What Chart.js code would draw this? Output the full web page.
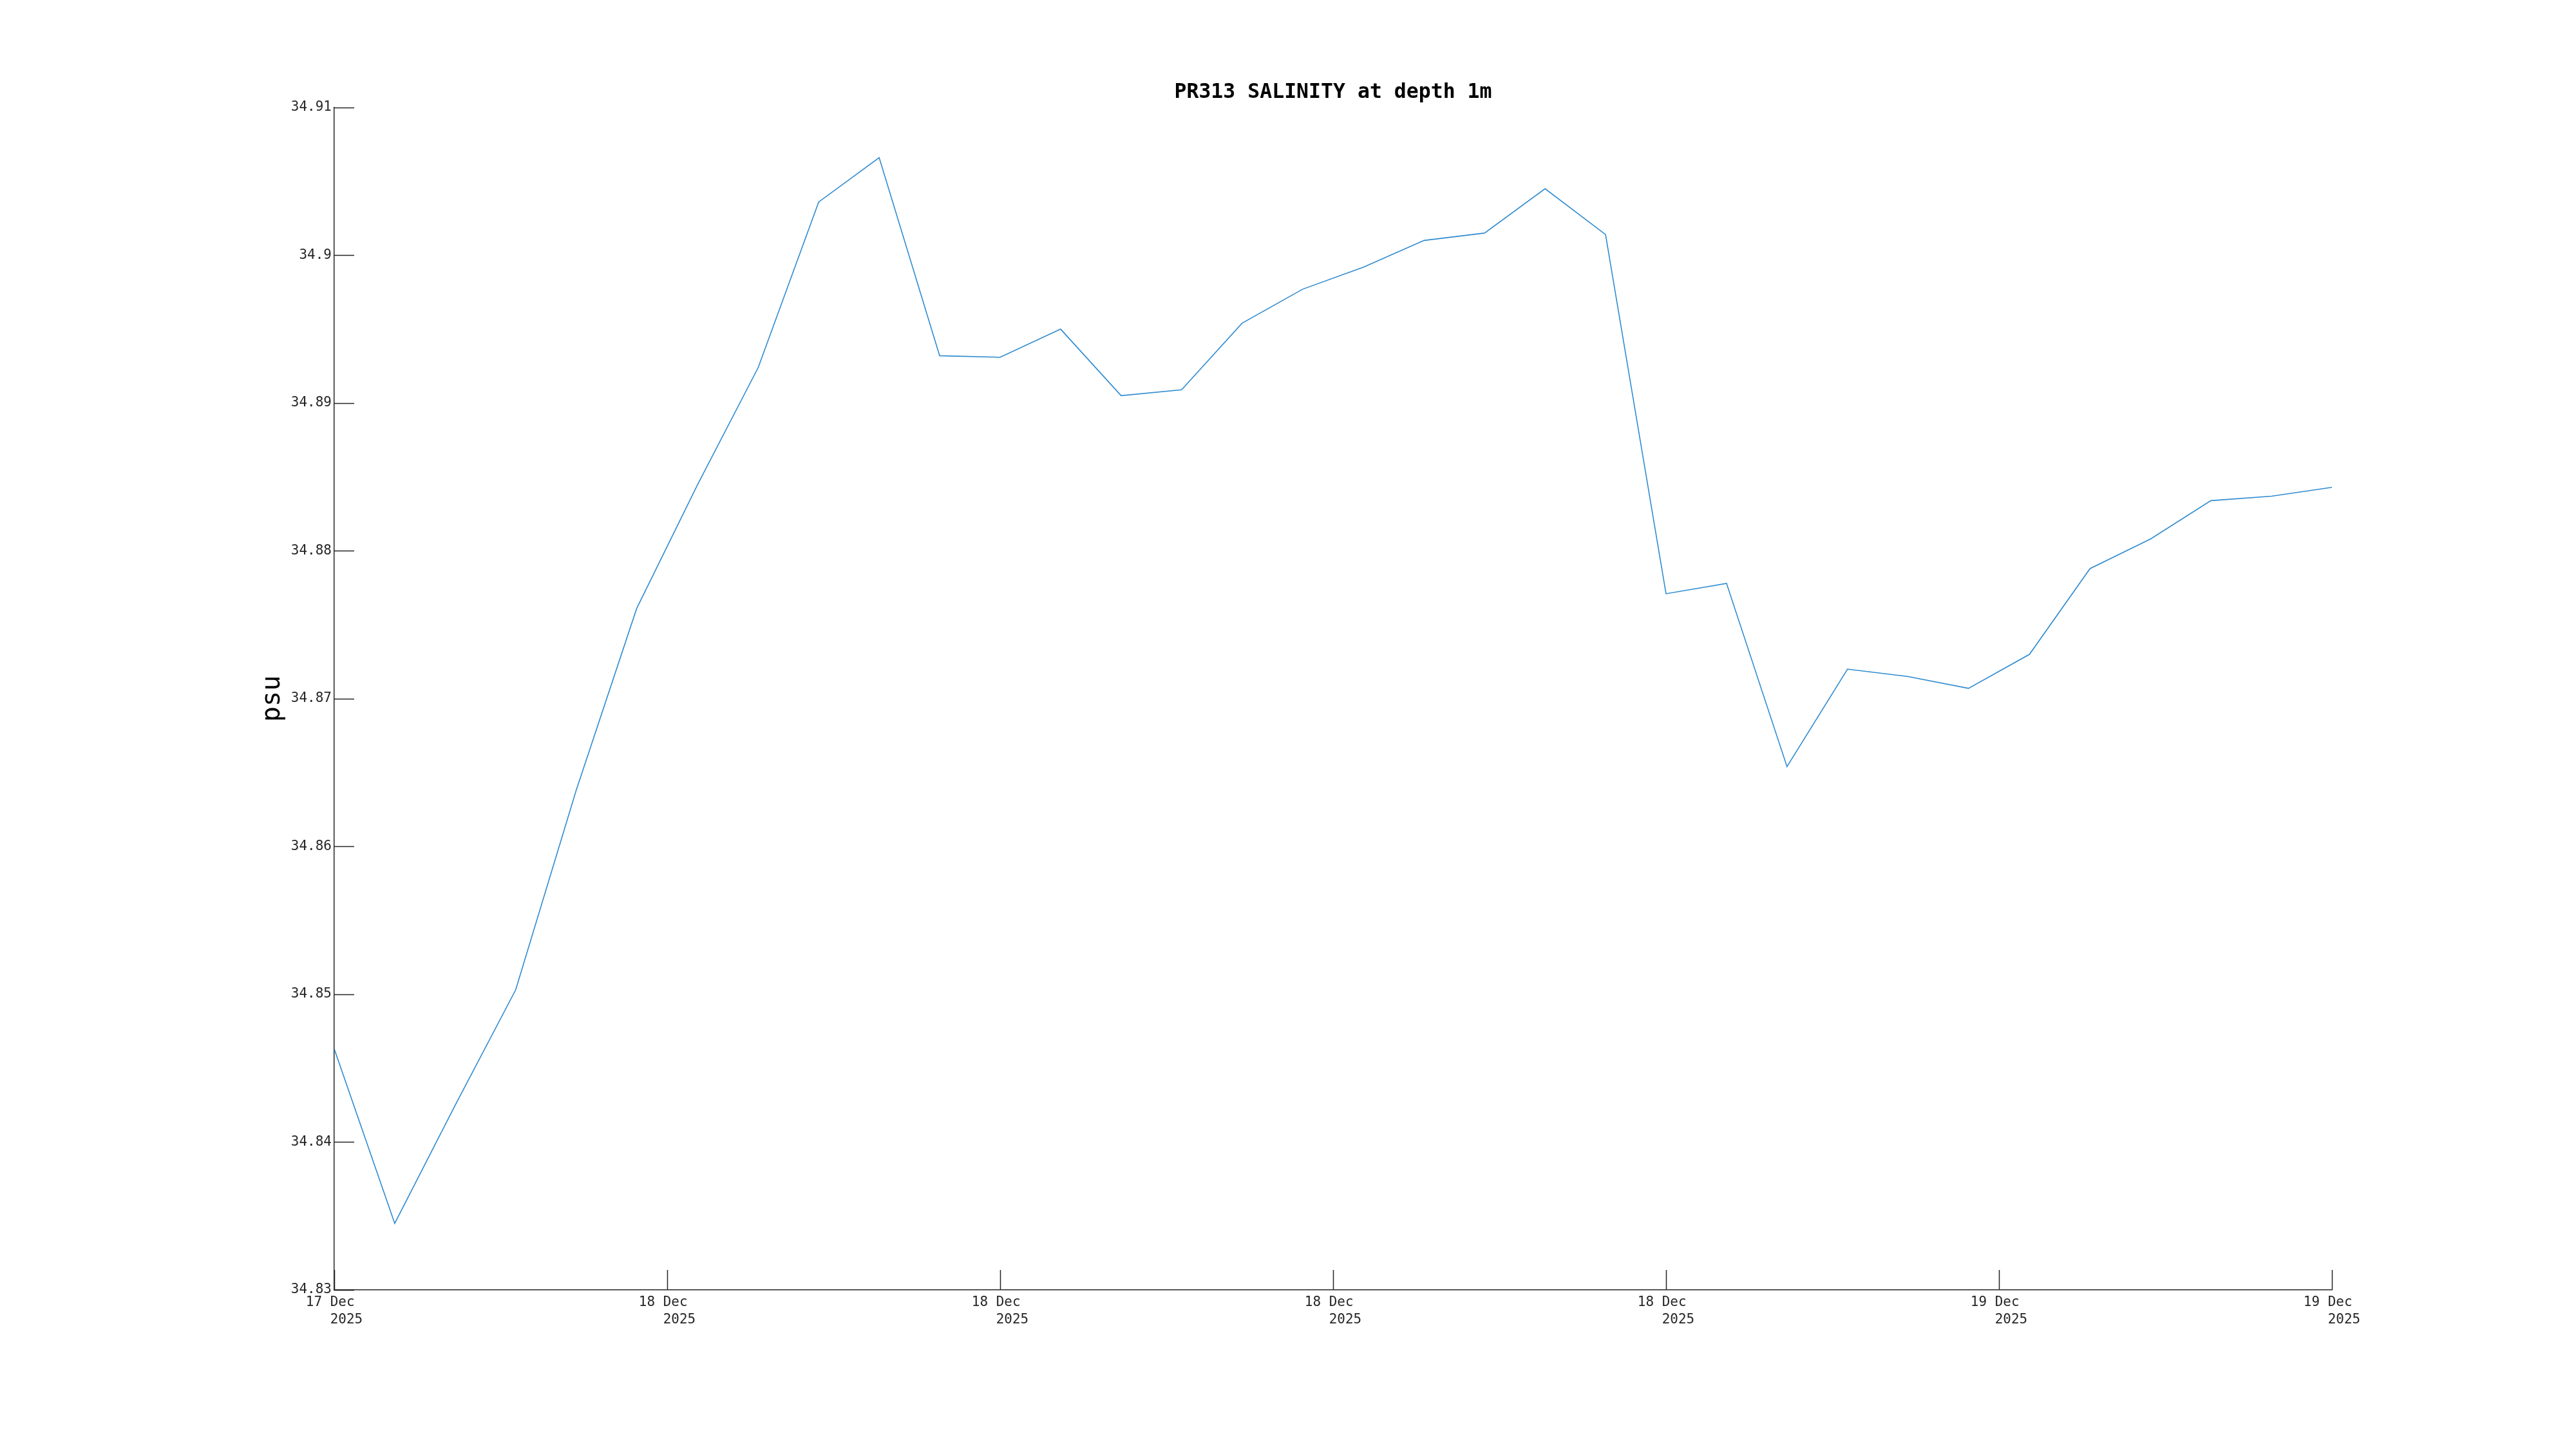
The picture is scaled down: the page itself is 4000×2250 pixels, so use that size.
<!DOCTYPE html>
<html>
<head>
<meta charset="utf-8">
<title>PR313 SALINITY at depth 1m</title>
<script src="https://cdn.jsdelivr.net/npm/chart.js@4.4.1/dist/chart.umd.min.js"></script>
<style>
    html, body { margin: 0; padding: 0; background: #ffffff; }
    #wrap { width: 4000px; height: 2250px; }
</style>
</head>
<body>
<div id="wrap"><canvas id="salinity-chart" width="4000" height="2250"></canvas></div>
<script>
// hours after 17 Dec 2025 18:00
const hours = [0, 1.09, 2.18, 3.27, 4.36, 5.45, 6.55, 7.64, 8.73, 9.82,
    10.91, 12, 13.09, 14.18, 15.27, 16.36, 17.45, 18.55, 19.64, 20.73,
    21.82, 22.91, 24, 25.09, 26.18, 27.27, 28.36, 29.45, 30.55, 31.64,
    32.73, 33.82, 34.91, 36];

const salinity = [34.8463, 34.8345, 34.8425, 34.8503, 34.8638, 34.8761, 34.8845, 34.8924, 34.9036, 34.9066,
    34.8932, 34.8931, 34.8950, 34.8905, 34.8909, 34.8954, 34.8977, 34.8992, 34.9010, 34.9015,
    34.9045, 34.9014, 34.8771, 34.8778, 34.8654, 34.8720, 34.8715, 34.8707, 34.8730, 34.8788,
    34.8808, 34.8834, 34.8837, 34.8843];

const xTickLabels = [
    ['17 Dec ', '   2025'],
    ['18 Dec ', '   2025'],
    ['18 Dec ', '   2025'],
    ['18 Dec ', '   2025'],
    ['18 Dec ', '   2025'],
    ['19 Dec ', '   2025'],
    ['19 Dec ', '   2025']
];

const yMin = 34.83;
const yMax = 34.91;

const axisColor = '#262626';
const mono = "'DejaVu Sans Mono', 'Liberation Mono', monospace";

// Matlab style ticks pointing into the plot
const innerTicks = {
    id: 'innerTicks',
    afterDraw(chart) {
        const ctx = chart.ctx;
        const area = chart.chartArea;
        const len = 31;
        ctx.save();
        ctx.strokeStyle = axisColor;
        ctx.lineWidth = 1.5;
        ctx.beginPath();
        chart.scales.y.ticks.forEach(t => {
            const py = Math.round(chart.scales.y.getPixelForValue(t.value)) + 0.5;
            ctx.moveTo(area.left, py);
            ctx.lineTo(area.left + len, py);
        });
        chart.scales.x.ticks.forEach(t => {
            const px = Math.round(chart.scales.x.getPixelForValue(t.value)) + 0.5;
            ctx.moveTo(px, area.bottom);
            ctx.lineTo(px, area.bottom - len);
        });
        ctx.stroke();
        ctx.restore();
    }
};

const points = hours.map((h, i) => ({ x: h, y: salinity[i] }));

new Chart(document.getElementById('salinity-chart'), {
    type: 'line',
    data: {
        datasets: [{
            label: 'SALINITY',
            data: points,
            borderColor: '#2f8bd0',
            borderWidth: 1.6,
            pointRadius: 0,
            tension: 0,
            fill: false
        }]
    },
    options: {
        responsive: false,
        animation: false,
        devicePixelRatio: 1,
        layout: {
            padding: { top: 0, left: 0, right: 379, bottom: 0 }
        },
        plugins: {
            legend: { display: false },
            tooltip: { enabled: false },
            title: {
                display: true,
                fullSize: false,
                text: 'PR313 SALINITY at depth 1m',
                color: '#000000',
                font: { family: mono, size: 31.5, weight: 'bold', lineHeight: 1.2 },
                padding: { top: 125, bottom: 4 }
            }
        },
        scales: {
            x: {
                type: 'linear',
                min: 0,
                max: 36,
                afterFit(scale) { scale.height = 247; },
                afterBuildTicks(scale) {
                    scale.ticks = [0, 6, 12, 18, 24, 30, 36].map(v => ({ value: v }));
                },
                grid: { display: false, drawTicks: false },
                border: { display: true, color: axisColor, width: 1.5 },
                ticks: {
                    color: axisColor,
                    font: { family: mono, size: 21, lineHeight: 1.3 },
                    padding: 6,
                    maxRotation: 0,
                    autoSkip: false,
                    callback: (value, index) => xTickLabels[index]
                }
            },
            y: {
                min: yMin,
                max: yMax,
                afterFit(scale) { scale.width = 519; },
                grid: { display: false, drawTicks: false },
                border: { display: true, color: axisColor, width: 1.5 },
                ticks: {
                    stepSize: 0.01,
                    color: axisColor,
                    font: { family: mono, size: 21 },
                    padding: 4,
                    callback: value => String(Number(value.toFixed(2)))
                },
                title: {
                    display: true,
                    text: 'psu',
                    color: '#000000',
                    font: { family: mono, size: 40, lineHeight: 1.2 },
                    padding: { top: 400, bottom: 0 }
                }
            }
        }
    },
    plugins: [innerTicks]
});
</script>
</body>
</html>
